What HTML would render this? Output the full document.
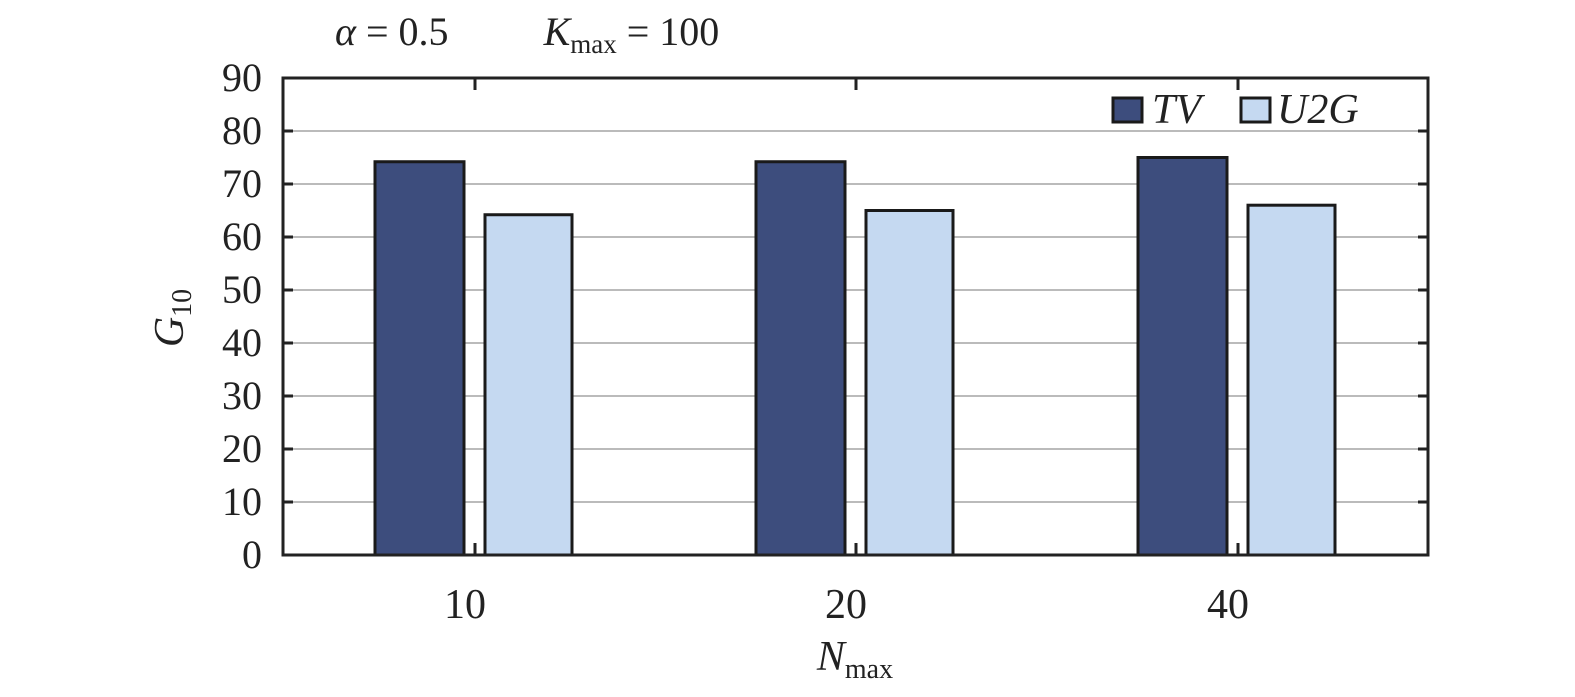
<!DOCTYPE html>
<html><head><meta charset="utf-8"><style>
body{margin:0;background:#fff}
svg{display:block;font-family:"Liberation Serif",serif}
</style></head><body>
<svg width="1575" height="697">
<g id="g"></g>
</svg>
<script>
const categories=["10","20","40"];
const tvValues=[74.2,74.2,75];
const u2gValues=[64.2,65,66];
const yTicks=[0,10,20,30,40,50,60,70,80,90];
const NS="http://www.w3.org/2000/svg";
const g=document.getElementById('g');
const X0=283,X1=1428,Y0=555,Y1=78,YMAX=90;
const y=v=>Y0-(Y0-Y1)*v/YMAX;
const cx=[475,856,1238];
function mk(t,a){const e=document.createElementNS(NS,t);for(const k in a)e.setAttribute(k,a[k]);g.appendChild(e);return e;}
yTicks.forEach(v=>{
 if(v>0&&v<90){const l=mk('line',{x1:X0,x2:X1,y1:y(v),y2:y(v),stroke:'#bbb','stroke-width':2});
 
 }
 const t=mk('text',{x:262,y:y(v)+13,'text-anchor':'end','font-size':40,fill:'#222'});t.textContent=v;
 
 
 mk('line',{x1:X0,x2:X0+10,y1:y(v),y2:y(v),stroke:'#222','stroke-width':3});
 mk('line',{x1:X1-10,x2:X1,y1:y(v),y2:y(v),stroke:'#222','stroke-width':3});
});
categories.forEach((c,i)=>{
 const b1=mk('rect',{x:cx[i]-100,y:y(tvValues[i]),width:89,height:Y0-y(tvValues[i]),fill:'#3d4d7d',stroke:'#1a1a1a','stroke-width':3});
 
 
 const b2=mk('rect',{x:cx[i]+10,y:y(u2gValues[i]),width:87,height:Y0-y(u2gValues[i]),fill:'#c5d9f1',stroke:'#1a1a1a','stroke-width':3});
 
 
 mk('line',{x1:cx[i],x2:cx[i],y1:Y0,y2:Y0-12,stroke:'#222','stroke-width':3});
 mk('line',{x1:cx[i],x2:cx[i],y1:Y1,y2:Y1+12,stroke:'#222','stroke-width':3});
 const t=mk('text',{x:cx[i]-10,y:618,'text-anchor':'middle','font-size':42,fill:'#222'});t.textContent=c;
 
 
});
const f=mk('rect',{x:X0,y:Y1,width:X1-X0,height:Y0-Y1,fill:'none',stroke:'#222','stroke-width':3});


</script>
<svg style="position:absolute;left:0;top:0" width="1575" height="697">
<g>
<rect x="1113" y="98" width="29" height="24" fill="#3d4d7d" stroke="#1a1a1a" stroke-width="3"/>
<text x="1152" y="123" font-size="42" font-style="italic" fill="#222" font-family="Liberation Serif,serif">TV</text>
<rect x="1241" y="98" width="29" height="24" fill="#c5d9f1" stroke="#1a1a1a" stroke-width="3"/>
<text x="1277" y="123" font-size="42" font-style="italic" fill="#222" font-family="Liberation Serif,serif">U2G</text>
</g>
<text x="335" y="45" font-size="40" fill="#222" font-family="Liberation Serif,serif"><tspan font-style="italic">α</tspan> = 0.5<tspan dx="95" font-style="italic">K</tspan><tspan font-size="27" dy="8">max</tspan><tspan dy="-8"> = 100</tspan></text>
<text transform="translate(183,318) rotate(-90)" text-anchor="middle" font-size="42" fill="#222" font-family="Liberation Serif,serif"><tspan font-style="italic">G</tspan><tspan font-size="28" dy="8">10</tspan></text>
<text x="855" y="670" text-anchor="middle" font-size="42" fill="#222" font-family="Liberation Serif,serif"><tspan font-style="italic">N</tspan><tspan font-size="28" dy="8">max</tspan></text>
</svg>
</body></html>
